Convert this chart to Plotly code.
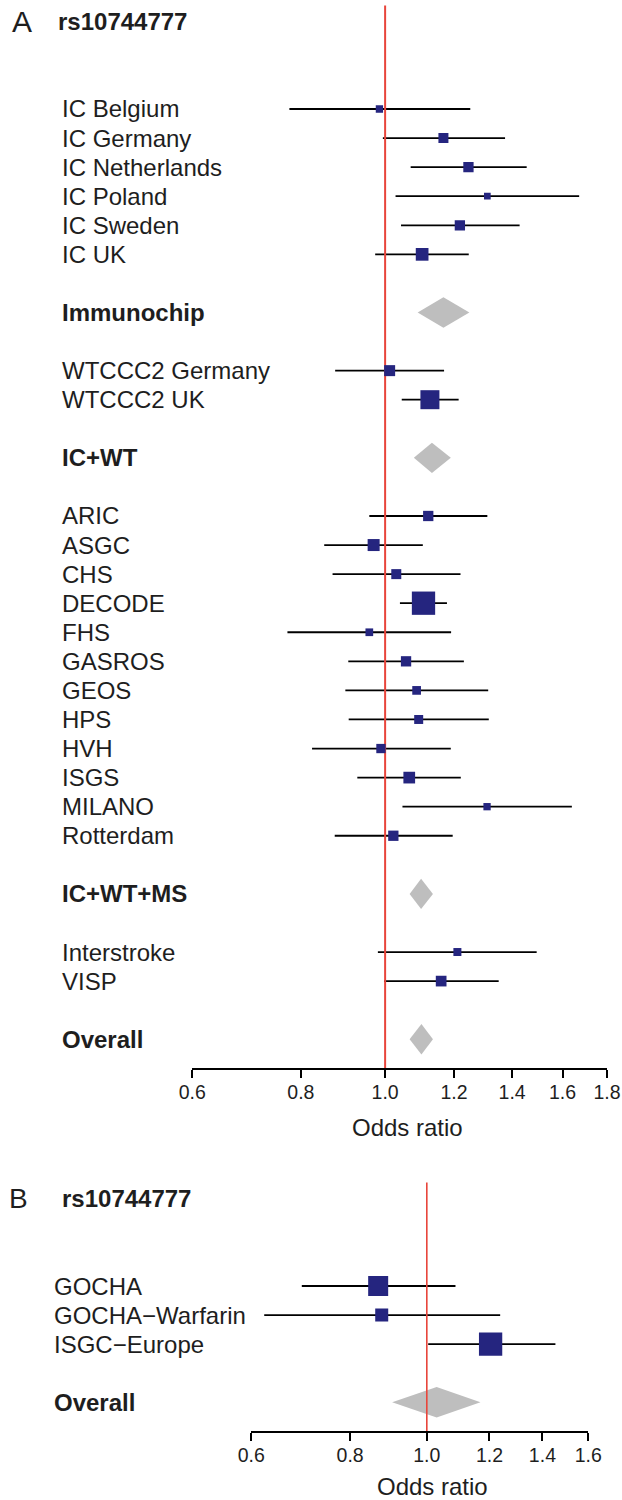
import math
import plotly.graph_objects as go

# ---------------- data ----------------
# Panel A (rs10744777): display order, "" = spacer row
order_A = ["IC Belgium", "IC Germany", "IC Netherlands", "IC Poland", "IC Sweden", "IC UK", "",
           "Immunochip", "",
           "WTCCC2 Germany", "WTCCC2 UK", "",
           "IC+WT", "",
           "ARIC", "ASGC", "CHS", "DECODE", "FHS", "GASROS", "GEOS", "HPS", "HVH", "ISGS",
           "MILANO", "Rotterdam", "",
           "IC+WT+MS", "",
           "Interstroke", "VISP", "",
           "Overall"]

studies_A = ["IC Belgium", "IC Germany", "IC Netherlands", "IC Poland", "IC Sweden", "IC UK",
             "WTCCC2 Germany", "WTCCC2 UK",
             "ARIC", "ASGC", "CHS", "DECODE", "FHS", "GASROS", "GEOS", "HPS", "HVH", "ISGS",
             "MILANO", "Rotterdam", "Interstroke", "VISP"]
or_A = [0.985, 1.167, 1.247, 1.311, 1.219, 1.103,
        1.012, 1.126,
        1.121, 0.970, 1.030, 1.107, 0.959, 1.057, 1.087, 1.093, 0.989, 1.066,
        1.310, 1.022, 1.211, 1.160]
lo_A = [0.776, 0.994, 1.070, 1.028, 1.043, 0.974,
        0.876, 1.045,
        0.959, 0.851, 0.870, 1.040, 0.772, 0.907, 0.900, 0.908, 0.824, 0.929,
        1.047, 0.875, 0.981, 0.997]
hi_A = [1.253, 1.374, 1.455, 1.672, 1.428, 1.248,
        1.169, 1.215,
        1.311, 1.105, 1.221, 1.178, 1.191, 1.232, 1.314, 1.316, 1.190, 1.222,
        1.640, 1.196, 1.494, 1.351]

summ_A = ["Immunochip", "IC+WT", "IC+WT+MS", "Overall"]
summ_or_A = [1.167, 1.132, 1.100, 1.101]
summ_lo_A = [1.090, 1.079, 1.067, 1.067]
summ_hi_A = [1.250, 1.190, 1.135, 1.135]

# Panel B
order_B = ["GOCHA", "GOCHA\u2212Warfarin", "ISGC\u2212Europe", "", "Overall"]
studies_B = ["GOCHA", "GOCHA\u2212Warfarin", "ISGC\u2212Europe"]
or_B = [0.868, 0.877, 1.204]
lo_B = [0.695, 0.623, 1.004]
hi_B = [1.087, 1.238, 1.454]
summ_B = ["Overall"]
summ_or_B = [1.029]
summ_lo_B = [0.904]
summ_hi_B = [1.169]

ticks_A = [0.6, 0.8, 1.0, 1.2, 1.4, 1.6, 1.8]
ticks_B = [0.6, 0.8, 1.0, 1.2, 1.4, 1.6]
snp = "rs10744777"

# ---------------- styles / layout ----------------
box_px_A = [7.3, 10, 10.3, 6.7, 10.3, 12.7, 11, 19, 10.3, 12, 10, 23.3, 7.7, 10.3, 8.7, 9,
            9.3, 11.7, 7.3, 10.3, 8, 10.7]
box_px_B = [20, 13, 23.3]

W, H = 622, 1500
ROW = 29.07
FONT = "Liberation Sans, Arial, Helvetica, sans-serif"
TXT = "#1e1e1e"
NAVY = "#25257f"
GRAY = "#bebebe"
RED = "#e8453b"

panels = [
    dict(order=order_A, studies=studies_A, o=or_A, lo=lo_A, hi=hi_A, box=box_px_A,
         summ=summ_A, so=summ_or_A, slo=summ_lo_A, shi=summ_hi_A, ticks=ticks_A,
         row0=109, top=5, x0px=192.3, x1px=607.0, lab_x=61.5, title_x=58.3,
         letter="A", letter_x=11.9, letter_size=30, xt_x=407, xt_y=1127, redw=2),
    dict(order=order_B, studies=studies_B, o=or_B, lo=lo_B, hi=hi_B, box=box_px_B,
         summ=summ_B, so=summ_or_B, slo=summ_lo_B, shi=summ_hi_B, ticks=ticks_B,
         row0=1286, top=1182, x0px=251.3, x1px=588.3, lab_x=54.4, title_x=61.5,
         letter="B", letter_x=8.7, letter_size=28, xt_x=432.5, xt_y=None, redw=1.6),
]

fig = go.Figure()
annotations = []
layout_axes = {}

for k, p in enumerate(panels):
    sfx = "" if k == 0 else str(k + 1)
    xa, ya = "x" + sfx, "y" + sfx
    nrows = len(p["order"])
    axis_row = nrows  # axis sits one row below the last row
    rowof = {name: i for i, name in enumerate(p["order"]) if name}
    top_row = (p["top"] - p["row0"]) / ROW
    bottom_px = p["row0"] + axis_row * ROW

    # CI lines
    xs, ys = [], []
    for name, l, h in zip(p["studies"], p["lo"], p["hi"]):
        r = rowof[name]
        xs += [l, h, None]
        ys += [r, r, None]
    fig.add_trace(go.Scatter(x=xs, y=ys, mode="lines", line=dict(color="black", width=1.8),
                             xaxis=xa, yaxis=ya, showlegend=False, hoverinfo="skip"))
    # summary diamonds
    hh = 15.2 / ROW
    for name, o, l, h in zip(p["summ"], p["so"], p["slo"], p["shi"]):
        r = rowof[name]
        fig.add_trace(go.Scatter(x=[l, o, h, o, l], y=[r, r - hh, r, r + hh, r], mode="lines",
                                 fill="toself", fillcolor=GRAY, line=dict(width=0, color=GRAY),
                                 xaxis=xa, yaxis=ya, showlegend=False, hoverinfo="skip"))
    # reference line at OR = 1
    fig.add_trace(go.Scatter(x=[1, 1], y=[top_row + 0.02, axis_row], mode="lines",
                             line=dict(color=RED, width=p["redw"]),
                             xaxis=xa, yaxis=ya, showlegend=False, hoverinfo="skip"))
    # point estimates
    fig.add_trace(go.Scatter(x=p["o"], y=[rowof[n] for n in p["studies"]], mode="markers",
                             marker=dict(symbol="square", size=p["box"], color=NAVY,
                                         opacity=1, line=dict(width=0)),
                             xaxis=xa, yaxis=ya, showlegend=False, hoverinfo="skip"))

    layout_axes["xaxis" + sfx] = dict(
        type="log", range=[math.log10(p["ticks"][0]), math.log10(p["ticks"][-1])],
        domain=[p["x0px"] / W, p["x1px"] / W], anchor=ya, automargin=False,
        showline=True, linecolor="black", linewidth=1.8, ticks="outside", ticklen=8,
        tickwidth=1.8, tickcolor="black", tickvals=p["ticks"],
        ticktext=["%.1f" % t for t in p["ticks"]], tickfont=dict(size=19.5, color=TXT, family=FONT),
        ticklabelstandoff=-3, showgrid=False, zeroline=False, fixedrange=True)
    layout_axes["yaxis" + sfx] = dict(
        range=[axis_row, top_row], domain=[1 - bottom_px / H, 1 - p["top"] / H],
        anchor=xa, visible=False, automargin=False, showgrid=False, zeroline=False,
        fixedrange=True)

    # row labels
    for name in p["order"]:
        if not name:
            continue
        bold = name in p["summ"]
        annotations.append(dict(
            x=(p["lab_x"] - 1) / W, xref="paper", y=rowof[name], yref=ya,
            text=("<b>%s</b>" % name) if bold else name, showarrow=False,
            xanchor="left", yanchor="middle", borderpad=0,
            font=dict(size=24, color=TXT, family=FONT)))
    # panel letter and SNP title
    annotations.append(dict(x=(p["letter_x"] - 1) / W, xref="paper", y=-3, yref=ya,
                            text=p["letter"], showarrow=False, xanchor="left", yanchor="middle",
                            borderpad=0, font=dict(size=p["letter_size"], color=TXT, family=FONT)))
    annotations.append(dict(x=(p["title_x"] - 1) / W, xref="paper", y=-3, yref=ya,
                            text="<b>%s</b>" % snp, showarrow=False, xanchor="left",
                            yanchor="middle", borderpad=0,
                            font=dict(size=24, color=TXT, family=FONT)))
    # axis title
    if p["xt_y"] is not None:
        annotations.append(dict(x=p["xt_x"] / W, xref="paper", y=1 - p["xt_y"] / H,
                                yref="paper", text="Odds ratio", showarrow=False,
                                xanchor="center", yanchor="middle", borderpad=0,
                                font=dict(size=24, color=TXT, family=FONT)))
    else:
        annotations.append(dict(x=p["xt_x"] / W, xref="paper", y=0, yref="paper",
                                text="Odds ratio", showarrow=False, xanchor="center",
                                yanchor="bottom", borderpad=0, borderwidth=0,
                                font=dict(size=24, color=TXT, family=FONT)))

fig.update_layout(
    width=W, height=H, autosize=False,
    margin=dict(l=0, r=0, t=0, b=0, pad=0, autoexpand=False),
    paper_bgcolor="white", plot_bgcolor="white",
    font=dict(family=FONT, color=TXT),
    annotations=annotations, showlegend=False,
    **layout_axes)

fig.write_html(
    "out.html",
    config={"displayModeBar": False, "responsive": False},
    post_script="document.body.style.margin='0';document.body.style.overflow='hidden';",
)
